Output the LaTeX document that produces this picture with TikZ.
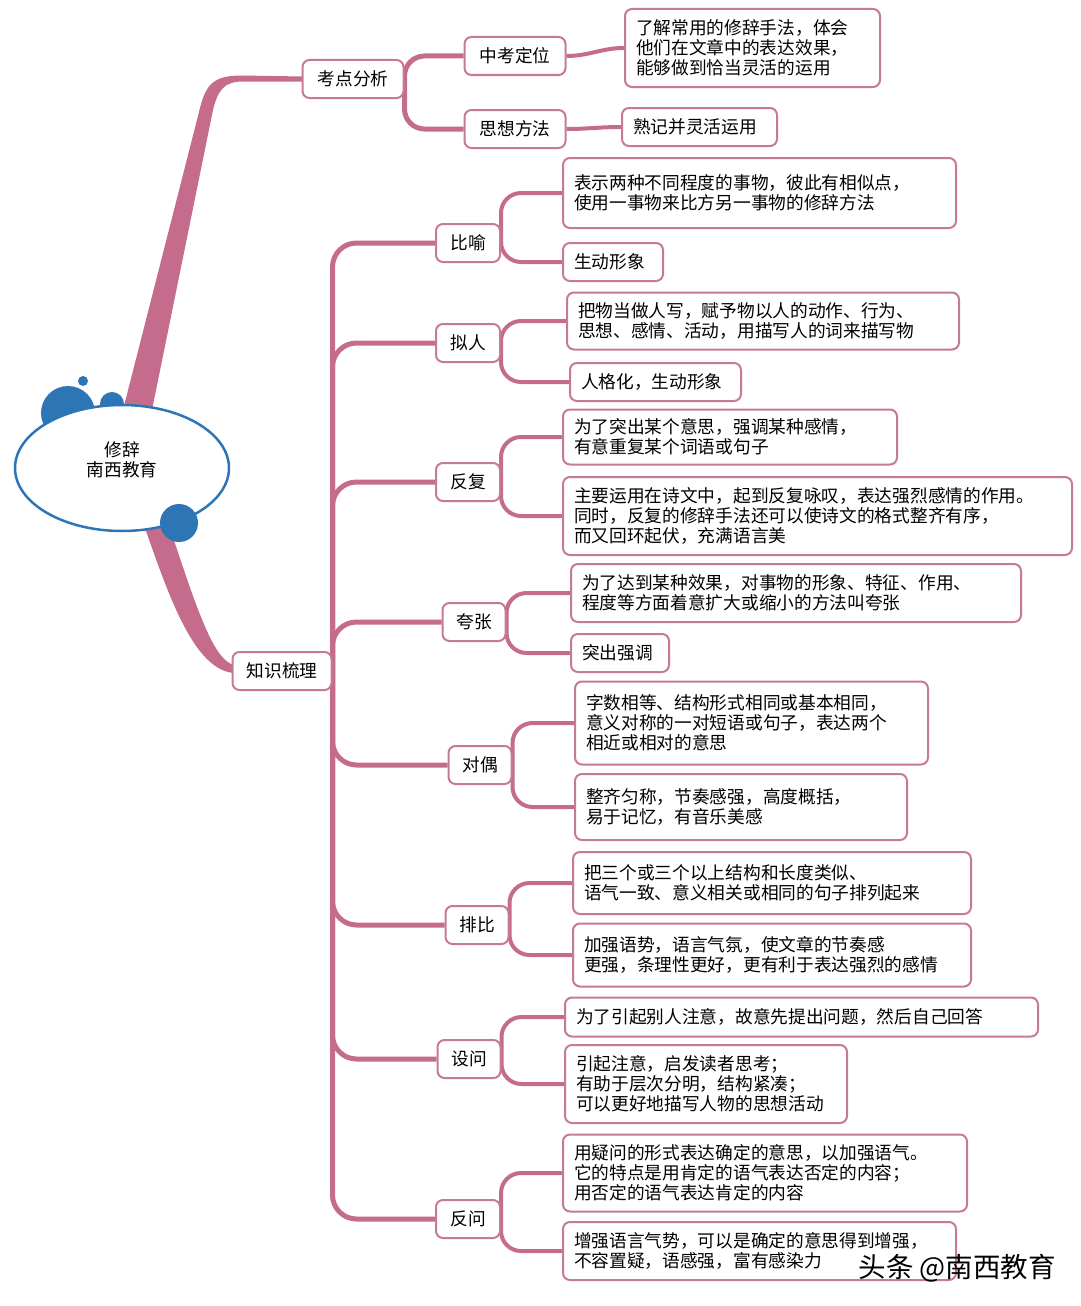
\documentclass[tikz,border=0pt]{standalone}
\usepackage{fontspec}
\setmainfont{Noto Sans CJK SC}
\usepackage{xcolor}
\usetikzlibrary{shapes.geometric, backgrounds}

\definecolor{branchpink}{RGB}{197,108,140}
\definecolor{boxpink}{RGB}{198,122,152}
\definecolor{bubble}{RGB}{46,117,182}

\begin{document}
\begin{tikzpicture}[x=1pt, y=-1pt,
    every node/.style={font=\fontsize{17.7}{20}\selectfont},
    box/.style={draw=boxpink, line width=2pt, rounded corners=7pt, fill=white,
                minimum height=38pt, inner xsep=11pt, inner ysep=0pt},
    leaf/.style={box, anchor=west, align=left},
    trunk/.style={draw=branchpink, line width=5pt, rounded corners=24pt},
    twig/.style={draw=branchpink, line width=4pt, rounded corners=20pt}]
    \useasboundingbox (0,0) rectangle (1080,1306);

    % thick tapered branches out of the centre
    \fill[branchpink] (123,410) -- (200,108) .. controls (206,84) and (214,76) .. (240,75.5)
        -- (303,76.5) -- (303,81.5) -- (242,81.5) .. controls (224,82) and (218,90) .. (213,110)
        -- (152,410) -- cycle;
    \fill[branchpink] (145,528) .. controls (170,600) and (195,670) .. (234,673)
        -- (234,665) .. controls (215,660) and (200,620) .. (170,528) -- cycle;

    % centre
    \fill[bubble] (68,413) circle (27pt);
    \fill[bubble] (112,404) circle (12pt);
    \fill[bubble] (83,381) circle (5pt);
    \node[ellipse, draw=bubble, line width=2.5pt, fill=white, minimum width=214pt,
          minimum height=126pt, align=center, text depth=18pt] (root) at (122,468) {修辞\\南西教育};
    \fill[bubble] (179,523) circle (19pt);

    % first level
    \node[box, minimum width=101pt] (kd) at (353,79) {考点分析};
    \node[box, minimum width=99pt] (zs) at (282,671) {知识梳理};

    % second level
    \node[box, minimum width=101pt] (zk) at (515,56) {中考定位};
    \node[box, minimum width=101pt] (sx) at (515,129) {思想方法};
    \node[box, minimum width=64pt] (by) at (468,243) {比喻};
    \node[box, minimum width=64pt] (nr) at (468,343) {拟人};
    \node[box, minimum width=64pt] (ff) at (468,482) {反复};
    \node[box, minimum width=63pt] (kz) at (474,622) {夸张};
    \node[box, minimum width=63pt] (dui) at (480,765) {对偶};
    \node[box, minimum width=63pt] (pb) at (477,925) {排比};
    \node[box, minimum width=63pt] (sw) at (469,1059) {设问};
    \node[box, minimum width=64pt] (fw) at (468,1219) {反问};

    % leaves
    \node[leaf, text width=233pt, minimum height=78pt] (kp1) at (624,48)
        {了解常用的修辞手法，体会\\他们在文章中的表达效果，\\能够做到恰当灵活的运用};
    \node[leaf, text width=133pt] (kp2) at (621,127) {熟记并灵活运用};
    \node[leaf, text width=371pt, minimum height=70pt] (by1) at (562,193)
        {表示两种不同程度的事物，彼此有相似点，\\使用一事物来比方另一事物的修辞方法};
    \node[leaf, text width=78pt] (by2) at (562,262) {生动形象};
    \node[leaf, text width=370pt, minimum height=57pt] (nr1) at (566,321)
        {把物当做人写，赋予物以人的动作、行为、\\思想、感情、活动，用描写人的词来描写物};
    \node[leaf, text width=149pt] (nr2) at (569,382) {人格化，生动形象};
    \node[leaf, text width=312pt, minimum height=55pt] (ff1) at (562,437)
        {为了突出某个意思，强调某种感情，\\有意重复某个词语或句子};
    \node[leaf, text width=487pt, minimum height=78pt] (ff2) at (562,516)
        {主要运用在诗文中，起到反复咏叹，表达强烈感情的作用。\\同时，反复的修辞手法还可以使诗文的格式整齐有序，\\而又回环起伏，充满语言美};
    \node[leaf, text width=428pt, minimum height=58pt] (kz1) at (570,593)
        {为了达到某种效果，对事物的形象、特征、作用、\\程度等方面着意扩大或缩小的方法叫夸张};
    \node[leaf, text width=76pt] (kz2) at (570,653) {突出强调};
    \node[leaf, text width=331pt, minimum height=83pt] (dui1) at (574,723)
        {字数相等、结构形式相同或基本相同，\\意义对称的一对短语或句子，表达两个\\相近或相对的意思};
    \node[leaf, text width=310pt, minimum height=66pt] (dui2) at (574,807)
        {整齐匀称，节奏感强，高度概括，\\易于记忆，有音乐美感};
    \node[leaf, text width=376pt, minimum height=62pt] (pb1) at (572,883)
        {把三个或三个以上结构和长度类似、\\语气一致、意义相关或相同的句子排列起来};
    \node[leaf, text width=376pt, minimum height=63pt] (pb2) at (572,955)
        {加强语势，语言气氛，使文章的节奏感\\更强，条理性更好，更有利于表达强烈的感情};
    \node[leaf, text width=451pt, minimum height=39pt] (sw1) at (564,1017)
        {为了引起别人注意，故意先提出问题，然后自己回答};
    \node[leaf, text width=260pt, minimum height=78pt] (sw2) at (564,1084)
        {引起注意，启发读者思考；\\有助于层次分明，结构紧凑；\\可以更好地描写人物的思想活动};
    \node[leaf, text width=382pt, minimum height=77pt] (fw1) at (562,1173)
        {用疑问的形式表达确定的意思，以加强语气。\\它的特点是用肯定的语气表达否定的内容；\\用否定的语气表达肯定的内容};
    \node[leaf, text width=371pt, minimum height=58pt] (fw2) at (562,1251)
        {增强语言气势，可以是确定的意思得到增强，\\不容置疑，语感强，富有感染力};

    % connectors, kept under the boxes
    \begin{scope}[on background layer]
        \draw[twig, line width=5pt] (kd.east) |- (zk.west);
        \draw[twig, line width=5pt] (kd.east) |- (sx.west);
        \foreach \n in {by,nr,ff,kz,dui,pb,sw,fw}
            \draw[trunk] (zs.east) |- (\n.west);
        \draw[twig] (zk.east) to[out=0, in=180] (kp1.west);
        \draw[twig] (sx.east) to[out=0, in=180] (kp2.west);
        \foreach \p/\a/\b in {by/by1/by2, nr/nr1/nr2, ff/ff1/ff2, kz/kz1/kz2,
                              dui/dui1/dui2, pb/pb1/pb2, sw/sw1/sw2, fw/fw1/fw2} {
            \draw[twig] (\p.east) |- (\a.west);
            \draw[twig] (\p.east) |- (\b.west);
        }
    \end{scope}

    % watermark
    \node[font=\fontsize{27.5}{30}\selectfont, anchor=west] (mark) at (855,1268) {头条 @南西教育};
\end{tikzpicture}
\end{document}
